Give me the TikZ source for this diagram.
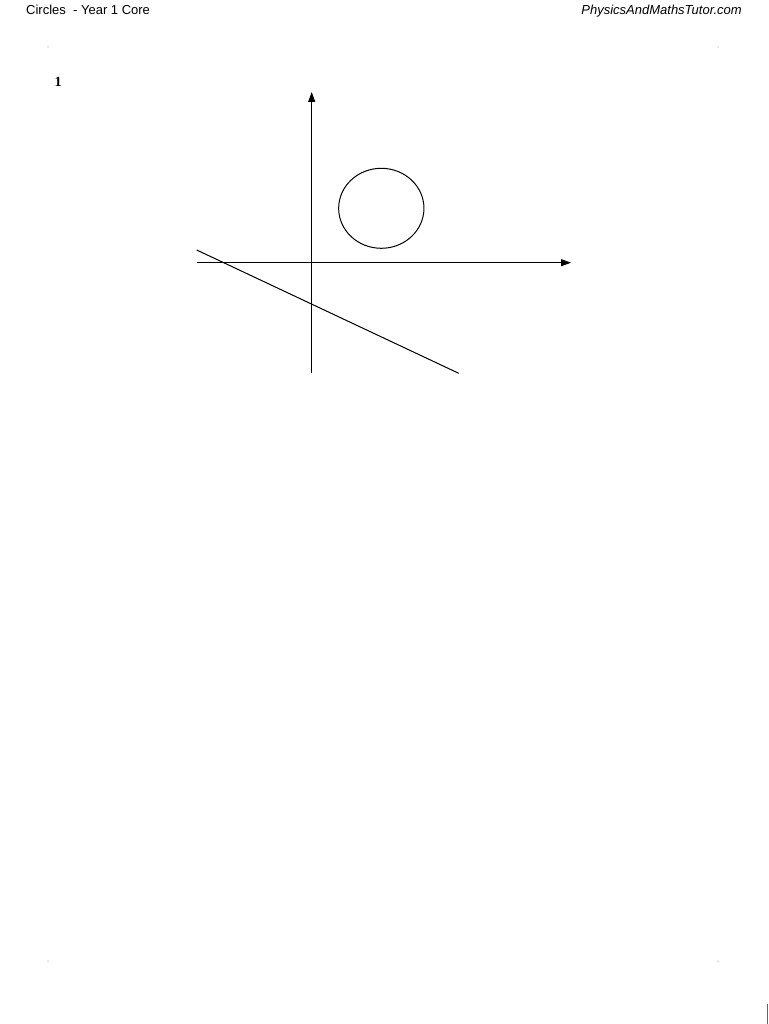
\documentclass[tikz,border=0pt]{standalone}
\usepackage{fontspec}
\setmainfont{Liberation Serif}
\newfontfamily\headfont{Liberation Sans}
\usetikzlibrary{arrows.meta,shapes.geometric}
\tikzset{
  axis/.style={line width=1pt, -{Triangle[length=10pt,width=7pt]}},
  plain/.style={line width=1pt},
  head/.style={font=\headfont\fontsize{13}{16}\selectfont, inner sep=0pt, anchor=base west},
  speck/.style={fill=black!25, inner sep=0pt, minimum size=1.5pt, circle}
}
\begin{document}
\begin{tikzpicture}[x=1pt,y=-1pt]
\useasboundingbox (0,0) rectangle (768,1024);
\fill[white] (0,0) rectangle (768,1024);
% header
\node[head] (title) at (26,15) {Circles\ \ - Year 1 Core};
\node[head, anchor=base east, font=\headfont\itshape\fontsize{13}{16}\selectfont] (site) at (742,15) {PhysicsAndMathsTutor.com};
% question number
\node[font=\bfseries\fontsize{14}{16}\selectfont, inner sep=0pt, anchor=base] (qnum) at (58,87) {1};
% specks
\node[speck] (s1) at (48,47) {};
\node[speck] (s2) at (718,47) {};
\node[speck] (s3) at (48,961) {};
\node[speck] (s4) at (718,961) {};
\draw[black!60, line width=0.8pt] (767,1004) -- (767,1024);
% axes
\coordinate (ybot) at (311.7,373);
\coordinate (ytop) at (311.7,92);
\coordinate (xleft) at (196.7,262.7);
\coordinate (xright) at (571,262.7);
\draw[axis] (ybot) -- (ytop);
\draw[axis] (xleft) -- (xright);
% circle
\node[draw, plain, ellipse, minimum width=85.3pt, minimum height=80pt, inner sep=0pt] (circ) at (381.3,208.3) {};
% line
\coordinate (la) at (196.7,250);
\coordinate (lb) at (458.7,373.3);
\draw[plain] (la) -- (lb);
\end{tikzpicture}
\end{document}
